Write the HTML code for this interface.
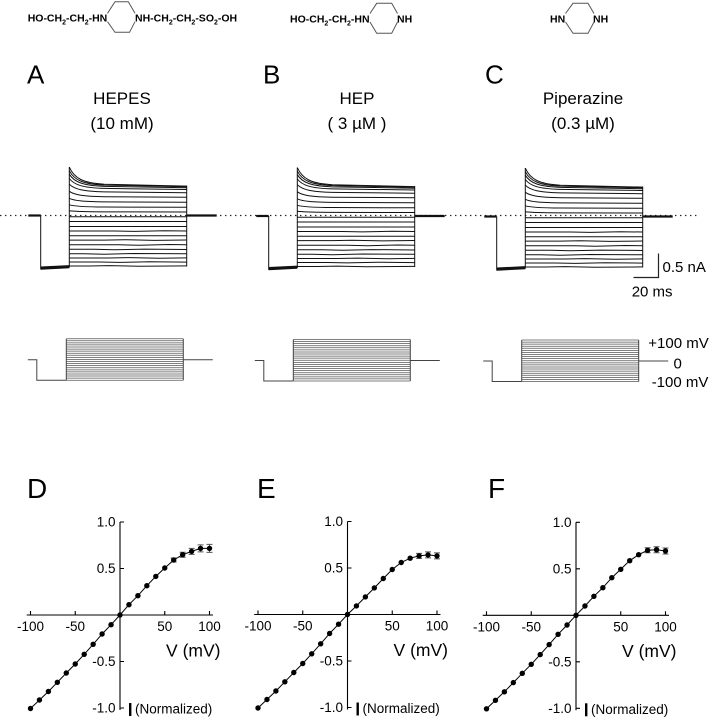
<!DOCTYPE html>
<html><head><meta charset="utf-8"><style>
html,body{margin:0;padding:0;background:#fff;}
svg{display:block;}
text{font-family:"Liberation Sans",Arial,sans-serif;fill:#000;}
</style></head><body>
<svg width="712" height="720" viewBox="0 0 712 720" xmlns="http://www.w3.org/2000/svg" xmlns:xlink="http://www.w3.org/1999/xlink">
<defs>
<g id="tr" fill="none" stroke="#111" stroke-width="1">
<path d="M-41,0 H-28.6" stroke-width="2.2"/>
<path d="M-28.6,0 V54"/>
<path d="M-28.6,52.6 L0,51.2" stroke-width="3.2"/>
<path d="M0,52 V-48.4"/>
<path d="M117.4,-30 V51"/>
<path d="M117.4,0 H147.4" stroke-width="2.2"/>
<path d="M0,50.5 H20 L40,50.1 L70,50.8 L117.4,50.4"/>
<path d="M0,46.5 H30 L50,46.9 L80,46.2 L117.4,46.6"/>
<path d="M0,42.5 H40 L60,42.1 L90,42.8 L117.4,42.4"/>
<path d="M0,38.3 H15 L35,38.7 L65,38 L117.4,38.3"/>
<path d="M0,33.8 H25 L45,34.3 L75,33.6 L117.4,34"/>
<path d="M0,29.3 H50 L70,29.7 L100,29 L117.4,29.3"/>
<path d="M0,24.6 H35 L55,24.2 L85,24.9 L117.4,24.5"/>
<path d="M0,20.3 H117.4"/>
<path d="M0,15.5 H45 L65,15.9 L95,15.3 L117.4,15.5"/>
<path d="M0,11 H117.4"/>
<path d="M0,6 H117.4"/>
<path d="M0,1.2 H117.4"/>
<path d="M0,-4.7 C5,-4 14,-3.7 35,-3.6 L117.4,-3.5"/>
<path d="M0,-10.7 C5,-9.2 14,-8.6 35,-8.45 L117.4,-8.2"/>
<path d="M0,-17.2 C5,-14.8 14,-13.84 35,-13.6 L117.4,-13.2"/>
<path d="M0,-24.2 C5,-20.6 14,-19.16 35,-18.8 L117.4,-18.2"/>
<path d="M0,-31.3 C5,-26.2 14,-24.16 35,-23.65 L117.4,-22.8"/>
<path d="M0,-37 C5,-30.4 14,-27.76 35,-27.1 L117.4,-26"/>
<path d="M0,-41.3 C5,-33.2 14,-29.96 35,-29.15 L117.4,-27.8"/>
<path d="M0,-44.8 C5,-35.2 14,-31.36 35,-30.4 L117.4,-28.8"/>
<path d="M0,-48.4 C5,-37 14,-32.44 35,-31.3 L117.4,-29.4"/>
</g>
<g id="pr" fill="none">
<path d="M-38.5,0 H-29.5 V20.5 H0" stroke="#444" stroke-width="1"/>
<g stroke="#555" stroke-width="0.75">
<path d="M0,-21H117M0,-18.93H117M0,-16.85H117M0,-14.78H117M0,-12.7H117M0,-10.63H117M0,-8.55H117M0,-6.48H117M0,-4.4H117M0,-2.33H117M0,-0.25H117M0,1.83H117M0,3.9H117M0,5.98H117M0,8.05H117M0,10.13H117M0,12.2H117M0,14.28H117M0,16.35H117M0,18.43H117M0,20.5H117"/>
</g>
<path d="M0,-21 V20.5 M117,-21 V20.5" stroke="#444" stroke-width="1"/>
<path d="M117,0 H146.5" stroke="#444" stroke-width="1"/>
</g>
</defs>

<!-- Structures -->
<g font-size="10.5" font-weight="bold" fill="#111">
<text x="27.7" y="21.7">HO-CH<tspan font-size="7" dy="3">2</tspan><tspan dy="-3">-CH</tspan><tspan font-size="7" dy="3">2</tspan><tspan dy="-3">-HN</tspan></text>
<text x="135" y="21.7">NH-CH<tspan font-size="7" dy="3">2</tspan><tspan dy="-3">-CH</tspan><tspan font-size="7" dy="3">2</tspan><tspan dy="-3">-SO</tspan><tspan font-size="7" dy="3">2</tspan><tspan dy="-3">-OH</tspan></text>
<text x="290" y="22.3">HO-CH<tspan font-size="7" dy="3">2</tspan><tspan dy="-3">-CH</tspan><tspan font-size="7" dy="3">2</tspan><tspan dy="-3">-HN</tspan></text>
<text x="397" y="22.3">NH</text>
<text x="550" y="22.3">HN</text>
<text x="593" y="22.3">NH</text>
</g>
<g fill="none" stroke="#555" stroke-width="1">
<path d="M107.5,13.3 L115,1.7 H128.3 L135,13.3 M107.5,21.7 L115,32.3 H129.5 L135,21.7"/>
<path d="M370,13.5 L376.7,3.3 H391.7 L397.5,13.5 M370,22 L376.7,33.3 H391.7 L397.5,22"/>
<path d="M565.5,13.5 L573,3.3 H588 L594,13.5 M565.5,22 L573,33.3 H588 L594,22"/>
</g>

<!-- Panel letters and titles -->
<g font-size="26">
<text x="27" y="83.5">A</text>
<text x="263" y="83.5">B</text>
<text x="485" y="83.5">C</text>
</g>
<g font-size="17" text-anchor="middle">
<text x="122" y="104">HEPES</text>
<text x="122" y="129">(10 mM)</text>
<text x="357" y="104">HEP</text>
<text x="357" y="129">( 3 µM )</text>
<text x="583" y="104">Piperazine</text>
<text x="583" y="129">(0.3 µM)</text>
</g>

<!-- dotted zero line -->
<path d="M0,215.5 H697" stroke="#222" stroke-width="1.3" stroke-dasharray="1.4 3.6" fill="none"/>

<!-- current traces -->
<use href="#tr" xlink:href="#tr" transform="translate(69.3,215.5)"/>
<use href="#tr" xlink:href="#tr" transform="translate(297.3,216)"/>
<use href="#tr" xlink:href="#tr" transform="translate(525.3,216.5)"/>

<!-- scale bar -->
<path d="M658.5,253.5 V277.5 H633.5" fill="none" stroke="#222" stroke-width="1.2"/>
<text x="662.5" y="272" font-size="15">0.5 nA</text>
<text x="631.7" y="296.5" font-size="15">20 ms</text>

<!-- voltage protocols -->
<use href="#pr" xlink:href="#pr" transform="translate(66.3,359.7)"/>
<use href="#pr" xlink:href="#pr" transform="translate(293.3,360.5)"/>
<use href="#pr" xlink:href="#pr" transform="translate(521.7,361)"/>
<g font-size="15">
<text x="648.3" y="348">+100 mV</text>
<text x="673.5" y="368.5">0</text>
<text x="651.7" y="387">-100 mV</text>
</g>

<!-- IV panels letters -->
<g font-size="28">
<text x="27" y="498">D</text>
<text x="257" y="498">E</text>
<text x="488" y="498">F</text>
</g>

<!-- Panel D -->
<g transform="translate(120,615)">
<path d="M-93.3,0 H93 M0,-93 V95 M-89.5,0 v-4 M-44.75,0 v-4 M44.75,0 v-4 M89.5,0 v-4 M0,-93 h4 M0,-46.5 h4 M0,46.5 h4 M0,93 h4" stroke="#000" stroke-width="1.1" fill="none"/>
<g font-size="13.5" text-anchor="middle">
<text x="-89.5" y="16">-100</text><text x="-44.75" y="16">-50</text><text x="44.75" y="16">50</text><text x="89.5" y="16">100</text>
</g>
<g font-size="13.5" text-anchor="end">
<text x="-4.5" y="-88.3">1.0</text><text x="-4.5" y="-41.8">0.5</text><text x="-4.5" y="51.2">-0.5</text><text x="-4.5" y="97.7">-1.0</text>
</g>
<text x="100.5" y="41.5" font-size="17.5" text-anchor="end">V (mV)</text>
<rect x="9" y="88" width="2.4" height="13" fill="#000"/>
<text x="15" y="98.5" font-size="13.5">(Normalized)</text>
<path d="M53.7,-57 v4 M50.7,-57 h6 M50.7,-53 h6 M62.65,-62.8 v5 M59.65,-62.8 h6 M59.65,-57.8 h6 M71.6,-66.6 v6 M68.6,-66.6 h6 M68.6,-60.6 h6 M80.55,-70.1 v7 M77.55,-70.1 h6 M77.55,-63.1 h6 M89.5,-70.6 v8 M86.5,-70.6 h6 M86.5,-62.6 h6" stroke="#555" stroke-width="1" fill="none"/>
<polyline fill="none" stroke="#000" stroke-width="1" points="-89.5,93.5 -80.55,85 -71.6,76.5 -62.65,67.3 -53.7,58 -44.75,49 -35.8,39.3 -26.85,29.3 -17.9,19 -8.95,9.7 0,0 8.95,-10.3 17.9,-19.3 26.85,-29.3 35.8,-38.6 44.75,-47 53.7,-55 62.65,-60.3 71.6,-63.6 80.55,-66.6 89.5,-66.6"/>
<g fill="#000">
<circle cx="-89.5" cy="93.5" r="2.7"/><circle cx="-80.55" cy="85" r="2.7"/><circle cx="-71.6" cy="76.5" r="2.7"/><circle cx="-62.65" cy="67.3" r="2.7"/><circle cx="-53.7" cy="58" r="2.7"/><circle cx="-44.75" cy="49" r="2.7"/><circle cx="-35.8" cy="39.3" r="2.7"/><circle cx="-26.85" cy="29.3" r="2.7"/><circle cx="-17.9" cy="19" r="2.7"/><circle cx="-8.95" cy="9.7" r="2.7"/><circle cx="0" cy="0" r="2.7"/>
<circle cx="8.95" cy="-10.3" r="2.7"/><circle cx="17.9" cy="-19.3" r="2.7"/><circle cx="26.85" cy="-29.3" r="2.7"/><circle cx="35.8" cy="-38.6" r="2.7"/><circle cx="44.75" cy="-47" r="2.7"/><circle cx="53.7" cy="-55" r="2.7"/><circle cx="62.65" cy="-60.3" r="2.7"/><circle cx="71.6" cy="-63.6" r="2.7"/><circle cx="80.55" cy="-66.6" r="2.7"/><circle cx="89.5" cy="-66.6" r="2.7"/>
</g>
</g>

<!-- Panel E -->
<g transform="translate(347.5,614.5)">
<path d="M-93.3,0 H93 M0,-93 V95 M-89.5,0 v-4 M-44.75,0 v-4 M44.75,0 v-4 M89.5,0 v-4 M0,-93 h4 M0,-46.5 h4 M0,46.5 h4 M0,93 h4" stroke="#000" stroke-width="1.1" fill="none"/>
<g font-size="13.5" text-anchor="middle">
<text x="-89.5" y="16">-100</text><text x="-44.75" y="16">-50</text><text x="44.75" y="16">50</text><text x="89.5" y="16">100</text>
</g>
<g font-size="13.5" text-anchor="end">
<text x="-4.5" y="-88.3">1.0</text><text x="-4.5" y="-41.8">0.5</text><text x="-4.5" y="51.2">-0.5</text><text x="-4.5" y="97.7">-1.0</text>
</g>
<text x="100.5" y="41.5" font-size="17.5" text-anchor="end">V (mV)</text>
<rect x="9" y="88" width="2.4" height="13" fill="#000"/>
<text x="15" y="98.5" font-size="13.5">(Normalized)</text>
<path d="M71.6,-61.1 v5 M68.6,-61.1 h6 M68.6,-56.1 h6 M80.55,-62.6 v6 M77.55,-62.6 h6 M77.55,-56.6 h6 M89.5,-61.6 v6 M86.5,-61.6 h6 M86.5,-55.6 h6" stroke="#555" stroke-width="1" fill="none"/>
<polyline fill="none" stroke="#000" stroke-width="1" points="-89.5,93.5 -80.55,85 -71.6,76.5 -62.65,67.3 -53.7,58 -44.75,49 -35.8,39.3 -26.85,29.3 -17.9,19 -8.95,9.7 0,0 8.95,-8.6 17.9,-17.6 26.85,-26.6 35.8,-36 44.75,-45 53.7,-52 62.65,-56.3 71.6,-58.6 80.55,-59.6 89.5,-58.6"/>
<g fill="#000">
<circle cx="-89.5" cy="93.5" r="2.7"/><circle cx="-80.55" cy="85" r="2.7"/><circle cx="-71.6" cy="76.5" r="2.7"/><circle cx="-62.65" cy="67.3" r="2.7"/><circle cx="-53.7" cy="58" r="2.7"/><circle cx="-44.75" cy="49" r="2.7"/><circle cx="-35.8" cy="39.3" r="2.7"/><circle cx="-26.85" cy="29.3" r="2.7"/><circle cx="-17.9" cy="19" r="2.7"/><circle cx="-8.95" cy="9.7" r="2.7"/><circle cx="0" cy="0" r="2.7"/>
<circle cx="8.95" cy="-8.6" r="2.7"/><circle cx="17.9" cy="-17.6" r="2.7"/><circle cx="26.85" cy="-26.6" r="2.7"/><circle cx="35.8" cy="-36" r="2.7"/><circle cx="44.75" cy="-45" r="2.7"/><circle cx="53.7" cy="-52" r="2.7"/><circle cx="62.65" cy="-56.3" r="2.7"/><circle cx="71.6" cy="-58.6" r="2.7"/><circle cx="80.55" cy="-59.6" r="2.7"/><circle cx="89.5" cy="-58.6" r="2.7"/>
</g>
</g>

<!-- Panel F -->
<g transform="translate(576,615.3)">
<path d="M-93.3,0 H93 M0,-93 V95 M-89.5,0 v-4 M-44.75,0 v-4 M44.75,0 v-4 M89.5,0 v-4 M0,-93 h4 M0,-46.5 h4 M0,46.5 h4 M0,93 h4" stroke="#000" stroke-width="1.1" fill="none"/>
<g font-size="13.5" text-anchor="middle">
<text x="-89.5" y="16">-100</text><text x="-44.75" y="16">-50</text><text x="44.75" y="16">50</text><text x="89.5" y="16">100</text>
</g>
<g font-size="13.5" text-anchor="end">
<text x="-4.5" y="-88.3">1.0</text><text x="-4.5" y="-41.8">0.5</text><text x="-4.5" y="51.2">-0.5</text><text x="-4.5" y="97.7">-1.0</text>
</g>
<text x="100.5" y="41.5" font-size="17.5" text-anchor="end">V (mV)</text>
<rect x="9" y="88" width="2.4" height="13" fill="#000"/>
<text x="15" y="98.5" font-size="13.5">(Normalized)</text>
<path d="M71.6,-67.5 v5 M68.6,-67.5 h6 M68.6,-62.5 h6 M80.55,-68.6 v6 M77.55,-68.6 h6 M77.55,-62.6 h6 M89.5,-67.3 v6 M86.5,-67.3 h6 M86.5,-61.3 h6" stroke="#555" stroke-width="1" fill="none"/>
<polyline fill="none" stroke="#000" stroke-width="1" points="-89.5,93.5 -80.55,85 -71.6,76.5 -62.65,67.3 -53.7,58 -44.75,49 -35.8,39.3 -26.85,29.3 -17.9,19 -8.95,9.7 0,0 8.95,-9.3 17.9,-19 26.85,-27.6 35.8,-37.6 44.75,-46 53.7,-54.6 62.65,-60.6 71.6,-65 80.55,-65.6 89.5,-64.3"/>
<g fill="#000">
<circle cx="-89.5" cy="93.5" r="2.7"/><circle cx="-80.55" cy="85" r="2.7"/><circle cx="-71.6" cy="76.5" r="2.7"/><circle cx="-62.65" cy="67.3" r="2.7"/><circle cx="-53.7" cy="58" r="2.7"/><circle cx="-44.75" cy="49" r="2.7"/><circle cx="-35.8" cy="39.3" r="2.7"/><circle cx="-26.85" cy="29.3" r="2.7"/><circle cx="-17.9" cy="19" r="2.7"/><circle cx="-8.95" cy="9.7" r="2.7"/><circle cx="0" cy="0" r="2.7"/>
<circle cx="8.95" cy="-9.3" r="2.7"/><circle cx="17.9" cy="-19" r="2.7"/><circle cx="26.85" cy="-27.6" r="2.7"/><circle cx="35.8" cy="-37.6" r="2.7"/><circle cx="44.75" cy="-46" r="2.7"/><circle cx="53.7" cy="-54.6" r="2.7"/><circle cx="62.65" cy="-60.6" r="2.7"/><circle cx="71.6" cy="-65" r="2.7"/><circle cx="80.55" cy="-65.6" r="2.7"/><circle cx="89.5" cy="-64.3" r="2.7"/>
</g>
</g>
</svg>
</body></html>
